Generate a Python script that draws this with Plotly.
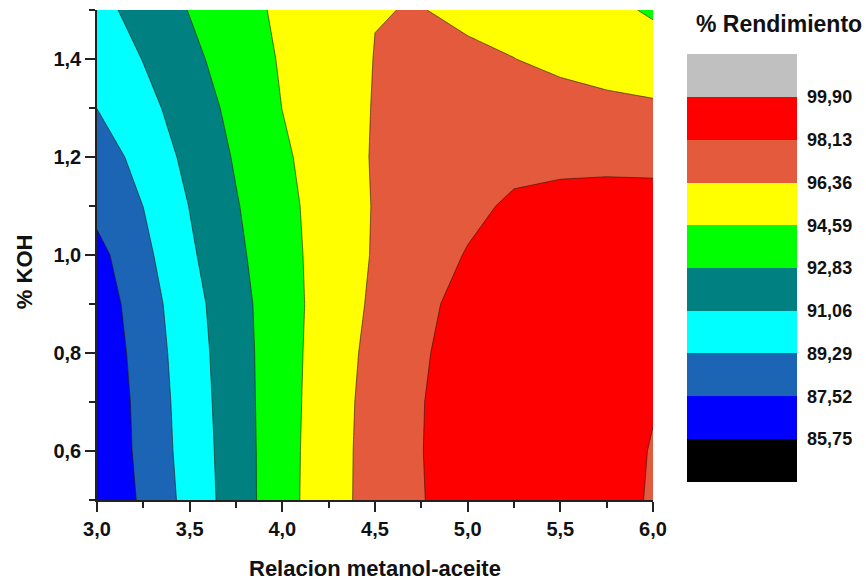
import plotly.graph_objects as go

# ---- data ----
x_ratio = [3.0, 3.25, 3.5, 3.75, 4.0, 4.25, 4.5, 4.75, 5.0, 5.25, 5.5, 5.75, 6.0]
y_koh = [0.5, 0.6, 0.7, 0.8, 0.9, 1.0, 1.1, 1.2, 1.3, 1.4, 1.5]

z_y050 = [85.95, 87.80, 89.88, 91.95, 93.93, 95.69, 96.99, 98.05, 99.00, 99.35, 99.45, 99.20, 97.86]
z_y060 = [86.00, 88.00, 90.01, 91.98, 93.91, 95.66, 96.99, 98.09, 99.05, 99.40, 99.50, 99.30, 97.97]
z_y070 = [86.07, 88.08, 90.11, 92.06, 93.88, 95.59, 96.96, 98.06, 99.05, 99.40, 99.50, 99.35, 98.30]
z_y080 = [86.26, 88.23, 90.24, 92.12, 93.87, 95.49, 96.84, 97.91, 99.00, 99.35, 99.50, 99.40, 98.60]
z_y090 = [86.52, 88.44, 90.42, 92.22, 93.88, 95.36, 96.65, 97.69, 98.75, 99.25, 99.45, 99.40, 98.90]
z_y100 = [87.00, 88.85, 90.79, 92.47, 94.00, 95.33, 96.50, 97.37, 98.23, 98.95, 99.25, 99.30, 99.00]
z_y110 = [88.00, 89.30, 91.10, 92.71, 94.11, 95.37, 96.46, 97.10, 97.75, 98.38, 98.70, 98.80, 98.75]
z_y120 = [88.34, 89.92, 91.49, 92.99, 94.33, 95.45, 96.50, 97.00, 97.35, 97.67, 97.66, 97.68, 97.66]
z_y130 = [89.30, 90.52, 91.89, 93.31, 94.61, 95.52, 96.45, 96.95, 97.15, 97.10, 96.95, 96.70, 96.55]
z_y140 = [89.81, 91.11, 92.41, 93.64, 94.75, 95.56, 96.40, 96.75, 96.60, 96.38, 96.01, 95.78, 95.60]
z_y150 = [90.51, 91.71, 92.89, 93.96, 94.90, 95.60, 96.33, 96.40, 96.10, 95.80, 95.50, 95.10, 94.34]

z_rend = [z_y050, z_y060, z_y070, z_y080, z_y090, z_y100,
          z_y110, z_y120, z_y130, z_y140, z_y150]

levels = [85.75, 87.52, 89.29, 91.06, 92.83, 94.59, 96.36, 98.13, 99.90]
level_labels = ["85,75", "87,52", "89,29", "91,06", "92,83",
                "94,59", "96,36", "98,13", "99,90"]
band_colors = ["#000000", "#0000FF", "#1C64B4", "#00FFFF", "#008080",
               "#00FF00", "#FFFF00", "#E45A3C", "#FF0000", "#C0C0C0"]

step = (levels[-1] - levels[0]) / (len(levels) - 1)

# Plotly draws the two outermost colour-bar bands at half height, so one
# invisible padding level is added on each side; the data never reaches it.
pad_color = "rgba(255,255,255,0)"
scale_colors = [pad_color] + band_colors + [pad_color]
n_bands = len(scale_colors)
colorscale = []
for i, c in enumerate(scale_colors):
    colorscale.append([i / n_bands, c])
    colorscale.append([(i + 1) / n_bands, c])

FONT = "Liberation Sans, Arial, sans-serif"
TXT = "#111"

# filled bands (no lines, so the colour bar stays clean)
fill_trace = go.Contour(
    x=x_ratio, y=y_koh, z=z_rend,
    autocontour=False,
    contours=dict(start=levels[0] - step, end=levels[-1] + step, size=step,
                  coloring="fill", showlines=False),
    line=dict(width=0, smoothing=0),
    colorscale=colorscale,
    colorbar=dict(
        x=1.061, xanchor="left", xpad=0,
        y=0.4733, yanchor="middle", ypad=0,
        len=0.960, lenmode="fraction",
        thickness=110, thicknessmode="pixels",
        outlinewidth=0,
        tickvals=levels, ticktext=level_labels,
        ticks="outside", ticklen=7, tickcolor="rgba(0,0,0,0)",
        tickfont=dict(family=FONT, size=18, color=TXT, weight="bold"),
    ),
    hoverinfo="x+y+z",
)

# thin dark boundary lines between the bands
line_trace = go.Contour(
    x=x_ratio, y=y_koh, z=z_rend,
    autocontour=False,
    contours=dict(start=levels[0], end=levels[-1], size=step,
                  coloring="none", showlines=True),
    line=dict(color="rgba(40,20,10,0.75)", width=0.8, smoothing=0),
    showscale=False,
    hoverinfo="skip",
)

fig = go.Figure([fill_trace, line_trace])

fig.update_layout(
    width=866, height=580,
    margin=dict(l=97, r=213, t=10, b=80),
    paper_bgcolor="white", plot_bgcolor="white",
    separators=",.",
    showlegend=False,
    xaxis=dict(
        range=[3.0, 6.0], tick0=3.0, dtick=0.5, tickformat=".1f",
        ticks="outside", ticklen=10, tickwidth=1.5, tickcolor="#222",
        minor=dict(dtick=0.25, ticks="outside", ticklen=6, tickwidth=1.5, tickcolor="#222"),
        showline=True, linecolor="#222", linewidth=1.5, mirror=False,
        showgrid=False, zeroline=False,
        tickfont=dict(family=FONT, size=20, color=TXT, weight="bold"),
    ),
    yaxis=dict(
        range=[0.5, 1.5], tick0=0.6, dtick=0.2, tickformat=".1f",
        ticks="outside", ticklen=10, tickwidth=1.5, tickcolor="#222",
        minor=dict(dtick=0.1, ticks="outside", ticklen=6, tickwidth=1.5, tickcolor="#222"),
        showline=True, linecolor="#222", linewidth=1.5, mirror=False,
        showgrid=False, zeroline=False,
        tickfont=dict(family=FONT, size=20, color=TXT, weight="bold"),
    ),
    annotations=[
        dict(text="Relacion metanol-aceite", xref="paper", yref="paper",
             x=0.5, y=-0.1388, xanchor="center", yanchor="middle", showarrow=False,
             font=dict(family=FONT, size=22, color=TXT, weight="bold")),
        dict(text="% KOH", textangle=-90, xref="paper", yref="paper",
             x=-0.1313, y=0.467, xanchor="center", yanchor="middle", showarrow=False,
             font=dict(family=FONT, size=22, color=TXT, weight="bold")),
        dict(text="% Rendimiento", xref="paper", yref="paper",
             x=1.226, y=0.971, xanchor="center", yanchor="middle", showarrow=False,
             font=dict(family=FONT, size=23, color=TXT, weight="bold")),
    ],
)

fig.write_html("out.html")
